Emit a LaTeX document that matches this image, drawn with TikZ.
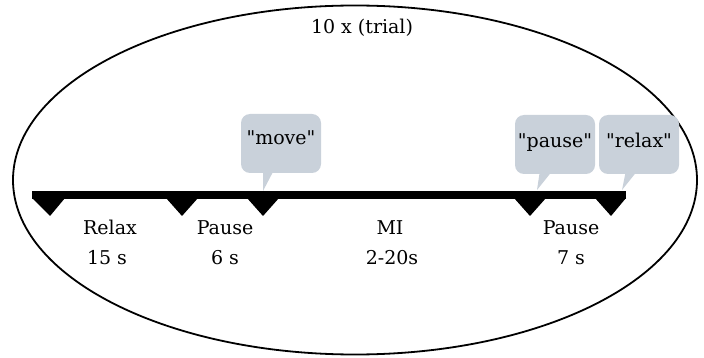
\documentclass[tikz,border=0pt]{standalone}
\usepackage{fontspec}
\setmainfont{DejaVu Serif}
\newfontfamily\quotefont{DejaVu Serif}[Ligatures=TeXOff]
\usetikzlibrary{shapes.geometric}
\newcommand{\sq}{{\quotefont\symbol{34}}}
\begin{document}
\begin{tikzpicture}[x=1pt,y=-1pt,
  lbl/.style={font=\fontsize{19}{23}\selectfont, inner sep=0pt, anchor=base},
  bubble/.style={fill=bubblecol, rounded corners=9pt}]
\definecolor{bubblecol}{RGB}{201,209,218}
\useasboundingbox (0,0) rectangle (704,358);
% ellipse
\node[draw, ellipse, line width=1.8pt, minimum width=684pt, minimum height=349pt, inner sep=0pt] (trial) at (355,180) {};
\node[lbl] (title) at (362,34) {10 x (trial)};
% bar
\fill (32,191) rectangle (626,199);
\coordinate (t1) at (50,216);
\coordinate (t2) at (182,216);
\coordinate (t3) at (263,216);
\coordinate (t4) at (530,216);
\coordinate (t5) at (611,216);
\fill (32,198) -- (65,198) -- (t1) -- cycle;
\fill (166,198) -- (198,198) -- (t2) -- cycle;
\fill (247,198) -- (279,198) -- (t3) -- cycle;
\fill (514,198) -- (546,198) -- (t4) -- cycle;
\fill (595,198) -- (626,198) -- (t5) -- cycle;
% bubbles
\fill[bubblecol] (263,191) -- (263,170) -- (274,170) -- cycle;
\fill[bubble] (241,114) rectangle (321,173);
\node[lbl] (move) at (281,145) {\sq move\sq};
\fill[bubblecol] (537,190) -- (540,170) -- (553,170) -- cycle;
\fill[bubble] (515,115) rectangle (595,174);
\node[lbl] (pause) at (555,148) {\sq pause\sq};
\fill[bubblecol] (622,190) -- (626,170) -- (638,170) -- cycle;
\fill[bubble] (599,115) rectangle (679,174);
\node[lbl] (relax) at (639,148) {\sq relax\sq};
% labels
\node[lbl] (l1) at (110,234) {Relax};
\node[lbl] (d1) at (107,264) {15 s};
\node[lbl] (l2) at (225,234) {Pause};
\node[lbl] (d2) at (225,264) {6 s};
\node[lbl] (l3) at (390,234) {MI};
\node[lbl] (d3) at (392,264) {2-20s};
\node[lbl] (l4) at (571,234) {Pause};
\node[lbl] (d4) at (571,264) {7 s};
\end{tikzpicture}
\end{document}
